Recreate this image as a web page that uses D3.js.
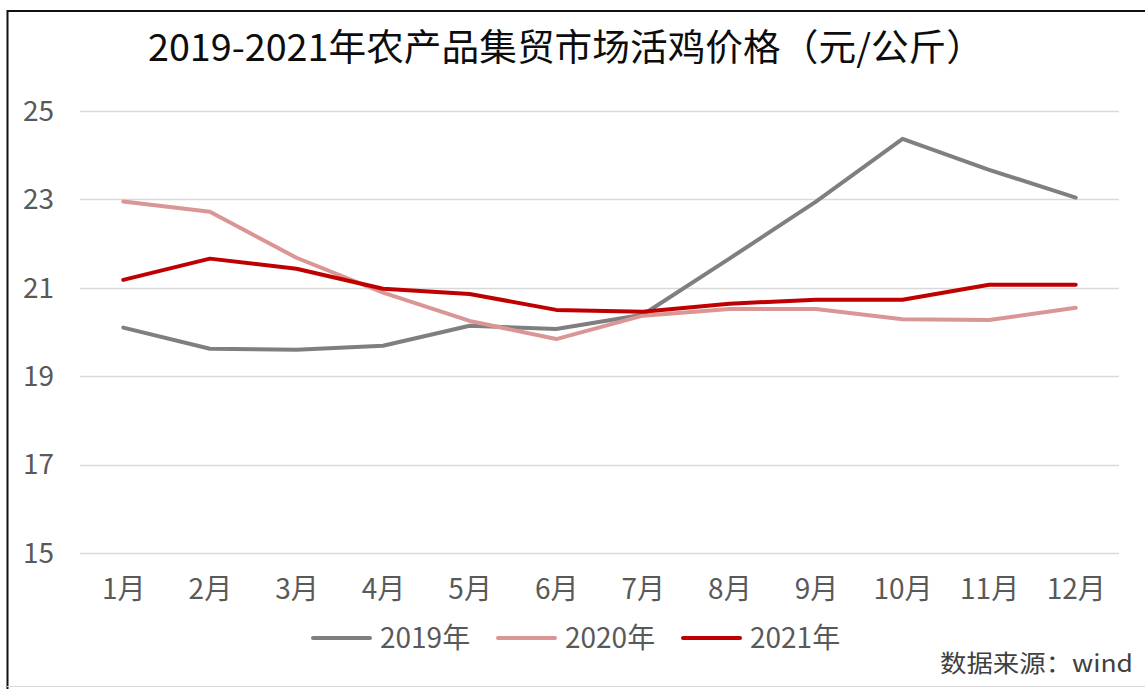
<!DOCTYPE html>
<html>
<head>
<meta charset="utf-8">
<script src="https://cdn.jsdelivr.net/npm/d3@7"></script>
<style>
  html, body { margin: 0; padding: 0; background: #fff; }
  svg { display: block; font-family: "Noto Sans CJK SC", "Noto Sans", sans-serif; }
</style>
</head>
<body>
<div id="chart"></div>
<script>
// 2019-2021 live chicken price at farm-produce markets, yuan/kg, monthly.

const months = ["1月", "2月", "3月", "4月", "5月", "6月", "7月", "8月", "9月", "10月", "11月", "12月"];
const yTicks = [15, 17, 19, 21, 23, 25];

const price2019 = [20.1, 19.62, 19.6, 19.69, 20.14, 20.07, 20.39, 21.66, 22.95, 24.37, 23.67, 23.04];
const price2020 = [22.95, 22.72, 21.68, 20.89, 20.25, 19.84, 20.37, 20.52, 20.52, 20.29, 20.27, 20.55];
const price2021 = [21.18, 21.66, 21.43, 20.98, 20.86, 20.5, 20.46, 20.64, 20.73, 20.73, 21.07, 21.07];

const seriesNames = ["2019年", "2020年", "2021年"];
const seriesColors = ["#7f7f7f", "#d99694", "#c00000"];

const WIDTH = 1145;
const HEIGHT = 689;
const PLOT = { left: 80, right: 1119, top: 111, bottom: 553 };

const series = [price2019, price2020, price2021].map((values, i) => ({
  name: seriesNames[i],
  color: seriesColors[i],
  values,
}));

const svg = d3
  .select("#chart")
  .append("svg")
  .attr("width", WIDTH)
  .attr("height", HEIGHT);

// frame
svg.append("line").attr("x1", 7).attr("x2", WIDTH).attr("y1", 11).attr("y2", 11)
  .attr("stroke", "#111").attr("stroke-width", 2);
svg.append("line").attr("x1", 7.5).attr("x2", 7.5).attr("y1", 10).attr("y2", HEIGHT)
  .attr("stroke", "#111").attr("stroke-width", 2);
svg.append("line").attr("x1", 7).attr("x2", WIDTH).attr("y1", 686.5).attr("y2", 686.5)
  .attr("stroke", "#d9d9d9").attr("stroke-width", 1);

const x = d3.scalePoint().domain(months).range([PLOT.left, PLOT.right]).padding(0.5);
const y = d3.scaleLinear().domain([15, 25]).range([PLOT.bottom, PLOT.top]);

// title
svg.append("text")
  .attr("x", 566)
  .attr("y", 61)
  .attr("text-anchor", "middle")
  .attr("fill", "#0d0d0d")
  .attr("textLength", 836)
  .attr("lengthAdjust", "spacingAndGlyphs")
  .style("font-size", "37px")
  .text("2019-2021年农产品集贸市场活鸡价格（元/公斤）");

// grid + y labels
svg.append("g")
  .selectAll("line")
  .data(yTicks)
  .join("line")
  .attr("x1", PLOT.left)
  .attr("x2", PLOT.right)
  .attr("y1", (d) => Math.round(y(d)) + 0.5)
  .attr("y2", (d) => Math.round(y(d)) + 0.5)
  .attr("stroke", "#d9d9d9")
  .attr("stroke-width", 1.5);

svg.append("g")
  .selectAll("text")
  .data(yTicks)
  .join("text")
  .attr("x", 23)
  .attr("y", (d) => y(d))
  .attr("dy", "0.35em")
  .attr("fill", "#595959")
  .style("font-size", "28px")
  .text((d) => d);

// x labels
const xAxis = svg.append("g")
  .attr("transform", `translate(0,${PLOT.bottom})`)
  .call(d3.axisBottom(x).tickSize(0).tickPadding(26));
xAxis.select(".domain").remove();
xAxis.selectAll(".tick text")
  .attr("fill", "#595959")
  .style("font-size", "28px")
  .style("font-family", "\"Noto Sans CJK SC\", sans-serif");

// lines
const line = d3.line()
  .x((d, i) => x(months[i]))
  .y((d) => y(d));

svg.append("g")
  .selectAll("path")
  .data(series)
  .join("path")
  .attr("d", (s) => line(s.values))
  .attr("fill", "none")
  .attr("stroke", (s) => s.color)
  .attr("stroke-width", 4)
  .attr("stroke-linejoin", "round")
  .attr("stroke-linecap", "round");

// legend
const legendX = [313, 498, 683];
const legend = svg.append("g")
  .selectAll("g")
  .data(series)
  .join("g")
  .attr("transform", (s, i) => `translate(${legendX[i]},638)`);
legend.append("line")
  .attr("x1", 0).attr("x2", 57).attr("y1", 0).attr("y2", 0)
  .attr("stroke", (s) => s.color)
  .attr("stroke-width", 4)
  .attr("stroke-linecap", "round");
legend.append("text")
  .attr("x", 67)
  .attr("dy", "0.35em")
  .attr("fill", "#595959")
  .style("font-size", "28px")
  .text((s) => s.name);

// source
svg.append("text")
  .attr("x", 1133)
  .attr("y", 664)
  .attr("dy", "0.35em")
  .attr("text-anchor", "end")
  .attr("fill", "#404040")
  .attr("textLength", 193)
  .attr("lengthAdjust", "spacingAndGlyphs")
  .style("font-size", "24px")
  .text("数据来源：wind");
</script>
</body>
</html>
